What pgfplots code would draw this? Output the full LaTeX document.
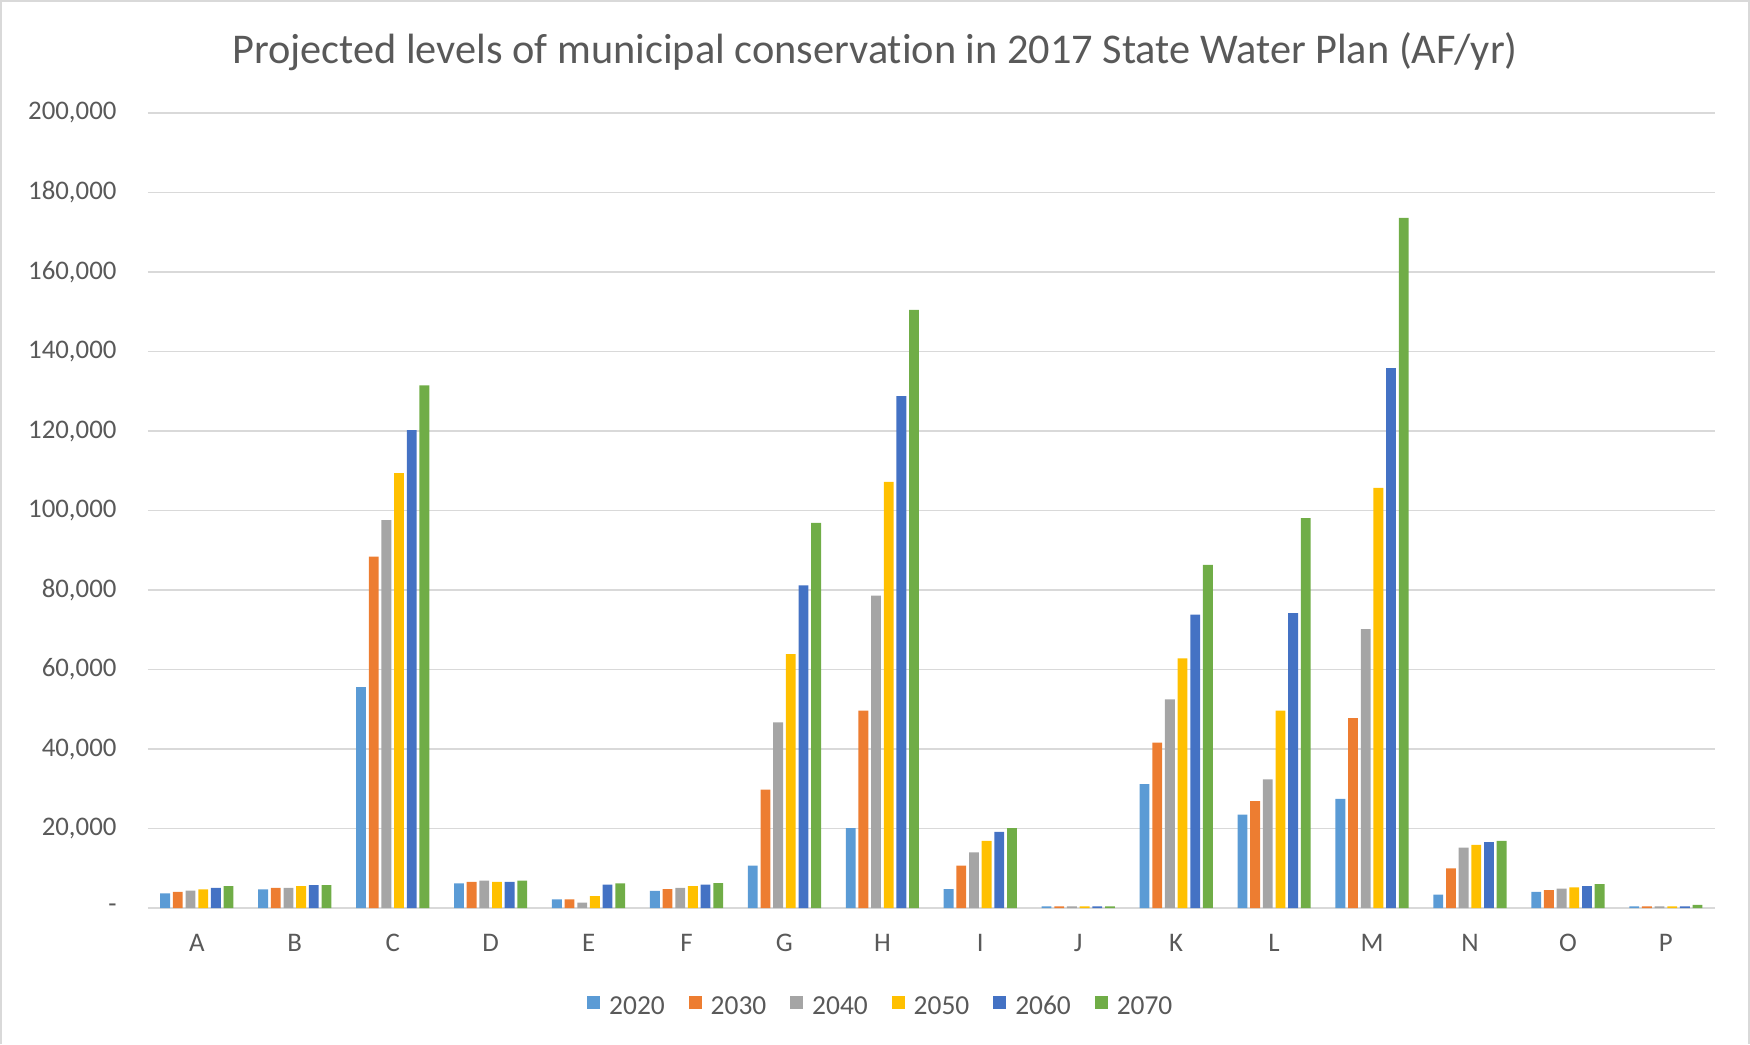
\documentclass[border=0pt]{standalone}
\usepackage{fontspec}
\setmainfont{Carlito}[Ligatures=NoCommon]
\usepackage{pgfplots}
\usepackage{pgfplotstable}
\pgfplotsset{compat=1.18}

\definecolor{c2020}{HTML}{5B9BD5}
\definecolor{c2030}{HTML}{ED7D31}
\definecolor{c2040}{HTML}{A5A5A5}
\definecolor{c2050}{HTML}{FFC000}
\definecolor{c2060}{HTML}{4472C4}
\definecolor{c2070}{HTML}{70AD47}
\definecolor{txtgray}{HTML}{595959}
\definecolor{gridgray}{HTML}{D9D9D9}

% Projected municipal conservation by region (AF/yr)
\pgfplotstableread{
idx  y2020  y2030  y2040  y2050  y2060  y2070
0    3700   4050   4400   4700   5100   5500
1    4700   5100   5100   5500   5800   5800
2    55600  88400  97600  109400 120200 131500
3    6200   6600   6900   6600   6600   6900
4    2200   2200   1400   3000   5900   6200
5    4300   4800   5100   5500   5900   6300
6    10700  29800  46700  63900  81200  96900
7    20100  49700  78600  107200 128800 150500
8    4800   10700  14000  16900  19200  20100
9    400    400    400    400    400    400
10   31200  41600  52500  62800  73800  86300
11   23500  26900  32400  49700  74200  98100
12   27500  47800  70200  105700 135800 173600
13   3400   10000  15200  15900  16600  16900
14   4100   4500   4900   5200   5500   6000
15   400    400    400    400    400    800
}\conservation

\begin{document}
\begin{tikzpicture}
\path[use as bounding box] (-49.6pt,-45.7pt) rectangle (537.4pt,304.6pt);
\draw[gridgray, line width=0.8pt] (-49.2pt,-45.7pt) -- (-49.2pt,304.2pt) -- (537.0pt,304.2pt) -- (537.0pt,-45.7pt);
\begin{axis}[
  scale only axis,
  width=525.6pt, height=266.7pt,
  xmin=-0.5, xmax=15.5,
  ymin=0, ymax=200000,
  ybar=0.95pt, bar width=3.3pt,
  xtick={0,...,15},
  xticklabels={A,B,C,D,E,F,G,H,I,J,K,L,M,N,O,P},
  ytick={0,20000,...,200000},
  yticklabels={{-\hspace{7pt}},{20,000},{40,000},{60,000},{80,000},{100,000},{120,000},{140,000},{160,000},{180,000},{200,000}},
  scaled y ticks=false,
  major tick length=0pt,
  ymajorgrids,
  grid style={draw=gridgray, line width=0.6pt},
  axis x line*=bottom,
  axis y line*=left,
  x axis line style={draw=gridgray, line width=0.8pt, -},
  y axis line style={draw=none},
  tick label style={font=\fontsize{9}{11}\selectfont, text=txtgray},
  xticklabel style={anchor=base, yshift=-14.6pt},
  yticklabel style={anchor=east, xshift=-7pt},
  legend columns=6,
  legend style={at={(0.4685,-0.124)}, anchor=center, draw=none,
    font=\fontsize{9.2}{11}\selectfont, text=txtgray,
    nodes={inner sep=1.5pt},
    /tikz/every even column/.append style={column sep=6.5pt}},
  legend image code/.code={\fill[#1] (0pt,-0.4pt) rectangle (4.4pt,4.0pt); \path (5.9pt,6pt);},
  every axis plot/.append style={draw=none},
]
\addplot[fill=c2020] table[x=idx, y=y2020] {\conservation};
\addplot[fill=c2030] table[x=idx, y=y2030] {\conservation};
\addplot[fill=c2040] table[x=idx, y=y2040] {\conservation};
\addplot[fill=c2050] table[x=idx, y=y2050] {\conservation};
\addplot[fill=c2060] table[x=idx, y=y2060] {\conservation};
\addplot[fill=c2070] table[x=idx, y=y2070] {\conservation};
\legend{2020,2030,2040,2050,2060,2070}
\end{axis}
\node[text=txtgray, font=\fontsize{14.2}{17}\selectfont] at (243.9pt,287.2pt)
  {Projected levels of municipal conservation in 2017 State Water Plan (AF/yr)};
\end{tikzpicture}
\end{document}
